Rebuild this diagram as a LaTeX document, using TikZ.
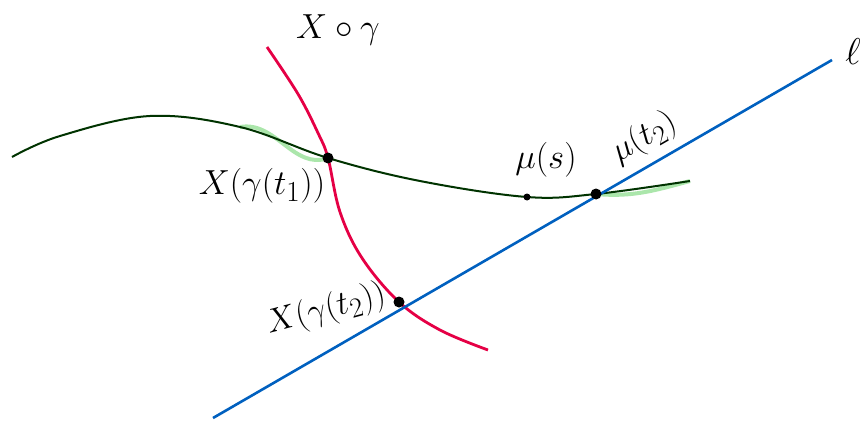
\documentclass[tikz,border=0pt]{standalone}
\usepackage{amssymb}
\begin{document}
\begin{tikzpicture}[x=1pt,y=-1pt,
  lbl/.style={font=\Huge, inner sep=0pt},
  pt/.style={circle, fill=black, inner sep=0pt, minimum size=#1},
  pt/.default=11pt,
  greencurve/.style={draw=black!80!green, line width=2pt},
  greenglow/.style={draw=green!70!black!55, line width=4pt, opacity=0.6},
  redcurve/.style={draw=red!70!magenta!90!black, line width=2.8pt},
  blueline/.style={draw=blue!50!cyan!75!black, line width=2.6pt}]
\useasboundingbox (0,0) rectangle (864,425);
% coordinates
\coordinate (g0) at (12,157);
\coordinate (g1) at (60,136);
\coordinate (g2) at (150,116);
\coordinate (g3) at (240,127);
\coordinate (g5) at (420,181);
\coordinate (g7) at (690,181);
\coordinate (r0) at (267,47);
\coordinate (r1) at (298,94);
\coordinate (r2) at (318,133);
\coordinate (r4) at (340,212);
\coordinate (r5) at (362,258);
\coordinate (r7) at (440,330);
\coordinate (r8) at (488,350);
\coordinate (b0) at (213,418);
\coordinate (b1) at (832,60);
\coordinate (c1) at (328,158);
\coordinate (c2) at (399,302);
\coordinate (cm) at (527,197);
\coordinate (c3) at (596,194);
% green highlights
\draw[greenglow] (g3) to[out=10,in=-160] (c1);
\draw[greenglow] (c3) to[out=-5,in=-165] (g7);
% curves
\draw[greencurve] plot[smooth, tension=0.6] coordinates {(g0) (g1) (g2) (g3) (c1) (g5) (cm) (c3) (g7)};
\draw[redcurve] plot[smooth, tension=0.6] coordinates {(r0) (r1) (r2) (c1) (r4) (r5) (c2) (r7) (r8)};
\draw[blueline] (b0) -- (b1);
% points
\node[pt] (P1) at (c1) {};
\node[pt] (P2) at (c2) {};
\node[pt=7pt] (M) at (cm) {};
\node[pt] (P3) at (c3) {};
% labels
\node[lbl, scale=1.4] (Lxg) at (338,30) {$X\circ\gamma$};
\node[lbl, scale=1.5] (Lell) at (853,52) {$\ell$};
\node[lbl, scale=1.4] (L1) at (262,186) {$X(\gamma(t_1))$};
\node[lbl, scale=1.4] (Lmu) at (546,160) {$\mu(s)$};
\node[lbl, rotate=30, scale=1.35] (Lmu2) at (644,138) {$\mu(t_2)$};
\node[lbl, rotate=15, scale=1.35] (L2) at (326,310) {$X(\gamma(t_2))$};
\end{tikzpicture}
\end{document}
